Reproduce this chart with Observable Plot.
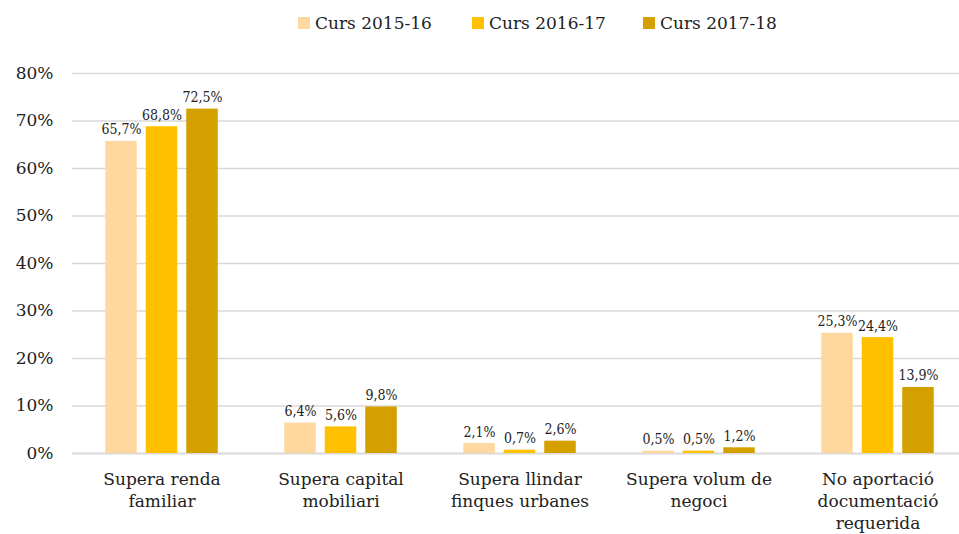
<!DOCTYPE html>
<html><head><meta charset="utf-8">
<script src="https://cdn.jsdelivr.net/npm/d3@7"></script>
<script src="https://cdn.jsdelivr.net/npm/@observablehq/plot@0.6"></script>
<style>
body{margin:0;background:#fff;overflow:hidden;font-family:"DejaVu Serif",serif;}
#legend{position:relative;height:45px;}
.item{position:absolute;top:13px;display:flex;align-items:center;font-size:17px;color:#222;white-space:nowrap;}
.sw{width:12px;height:12px;margin-right:5px;}
</style></head><body>
<div id="legend"></div><div id="chart"></div>
<script>
const categories = ["Supera renda\nfamiliar","Supera capital\nmobiliari","Supera llindar\nfinques urbanes","Supera volum de\nnegoci","No aportació\ndocumentació\nrequerida"];
const series = ["Curs 2015-16","Curs 2016-17","Curs 2017-18"];
const values2015 = [65.7, 6.4, 2.1, 0.5, 25.3];
const values2016 = [68.8, 5.6, 0.7, 0.5, 24.4];
const values2017 = [72.5, 9.8, 2.6, 1.2, 13.9];
const colors = ["#FFD8A0","#FFC000","#D4A000"];
const yTicks = [0,10,20,30,40,50,60,70,80];

const allValues = [values2015, values2016, values2017];
const legendLeft = [298, 472, 643];

const legend = document.getElementById("legend");
series.forEach((s,j)=>{
  const it = document.createElement("div");
  it.className="item"; it.style.left = legendLeft[j]+"px";
  it.innerHTML = `<span class="sw" style="background:${colors[j]}"></span><span>${s}</span>`;
  legend.appendChild(it);
});

const fmt = v => d3.format(".1f")(v).replace(".", ",") + "%";
const band = 179.5, barW = 32, step = 40.5;

const marks = [
  Plot.ruleY(yTicks.filter(d=>d>0), {stroke:"#d9d9d9", strokeWidth:1.5}),
  Plot.ruleY([0], {stroke:"#d9d9d9", strokeWidth:2})
];
series.forEach((s,j)=>{
  const data = categories.map((c,i)=>({category:c, value:allValues[j][i]}));
  const off = (j-1)*step;
  const side = (band-barW)/2;
  marks.push(Plot.barY(data, {x:"category", y:"value", fill:colors[j], insetLeft: side+off, insetRight: side-off}));
  marks.push(Plot.text(data, {x:"category", y:"value", text:d=>fmt(d.value), dx: off, dy:-7, lineAnchor:"bottom", fontSize:14, fontFamily:"'DejaVu Serif Condensed', 'Liberation Serif', serif", fill:"#222"}));
});
marks.push(Plot.axisY({ticks:yTicks, tickFormat:d=>d+"%", tickSize:0, tickPadding:19, fontSize:17, fill:"#222", label:null}));
marks.push(Plot.axisX({tickSize:0, tickPadding:16, fontSize:17, lineHeight:1.3, fill:"#222", label:null}));

const chart = Plot.plot({
  width:959, height:489,
  marginLeft:72, marginRight:0, marginTop:28, marginBottom:81,
  style:{fontFamily:"'DejaVu Serif', serif", fontSize:"17px", color:"#222", background:"#fff"},
  x:{domain:categories, range:[70,968], padding:0, label:null},
  y:{domain:[0,80], label:null},
  marks
});
document.getElementById("chart").appendChild(chart);
</script>
</body></html>
